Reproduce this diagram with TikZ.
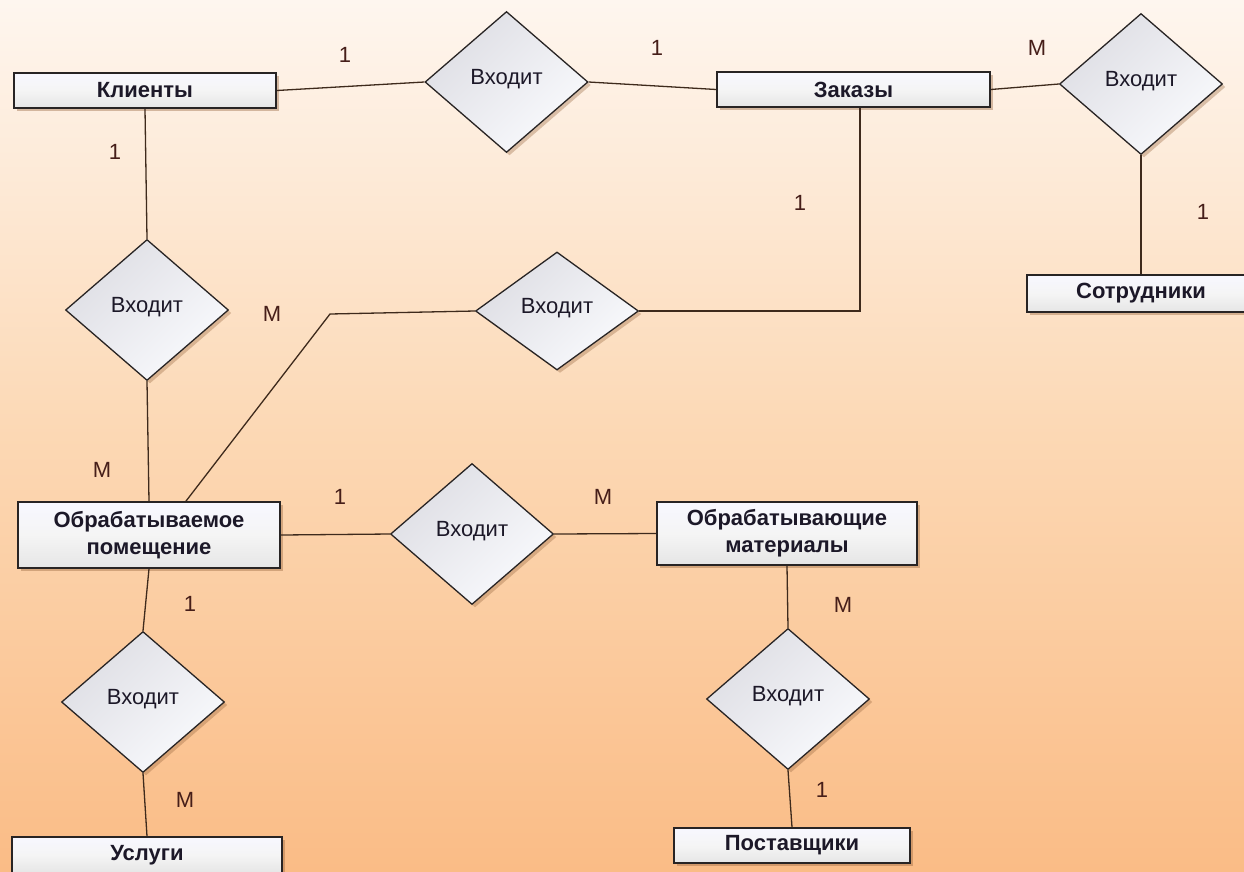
\documentclass[tikz,border=0pt]{standalone}
\usepackage{fontspec}
\setmainfont{Liberation Sans}
\usetikzlibrary{shapes.geometric,shadows,calc}
\definecolor{bgtop}{RGB}{254,246,239}
\definecolor{bgmid}{RGB}{252,216,180}
\definecolor{bgbot}{RGB}{250,188,134}
\definecolor{edgec}{RGB}{40,36,36}
\definecolor{connc}{RGB}{62,42,28}
\definecolor{lblc}{RGB}{70,30,25}
\definecolor{txtc}{RGB}{28,24,40}
\definecolor{shadc}{RGB}{150,100,60}
\definecolor{dtop}{RGB}{222,222,228}
\definecolor{dbot}{RGB}{249,250,253}
\begin{document}
\begin{tikzpicture}[x=1pt,y=-1pt,
  entity/.style={draw=edgec, line width=1.6pt, rectangle, inner sep=0pt,
    top color=white!97!blue, bottom color=gray!20, middle color=gray!8,
    font=\fontsize{22}{27}\selectfont\bfseries, text=txtc, align=center,
    drop shadow={opacity=0.4, shadow xshift=3pt, shadow yshift=-3pt, fill=shadc}},
  rel/.style={draw=edgec, line width=1.3pt, diamond, aspect=1.156, inner sep=0pt,
    minimum width=163pt, minimum height=141pt,
    top color=dtop, bottom color=dbot, shading angle=45,
    font=\fontsize{22}{26}\selectfont, text=txtc, text height=16pt, text depth=12pt,
    drop shadow={opacity=0.35, shadow xshift=3pt, shadow yshift=-3pt, fill=shadc}},
  card/.style={font=\fontsize{22}{26}\selectfont, text=lblc, inner sep=0pt},
  conn/.style={draw=connc, line width=1.3pt}]
\useasboundingbox (0,0) rectangle (1244,871);
\clip (0,0) rectangle (1244,871);
\shade[top color=bgtop, bottom color=bgbot, middle color=bgmid] (0,0) rectangle (1244,871);

% entities
\node[entity, minimum width=262pt, minimum height=35pt] (kl) at (145,90.5) {Клиенты};
\node[entity, minimum width=273pt, minimum height=35pt] (zak) at (853.5,89.5) {Заказы};
\node[entity, minimum width=228pt, minimum height=37pt] (sotr) at (1141,293.5) {Сотрудники};
\node[entity, minimum width=262pt, minimum height=66pt] (pom) at (149,535) {Обрабатываемое\\помещение};
\node[entity, minimum width=260pt, minimum height=63pt] (mat) at (787,533.5) {Обрабатывающие\\материалы};
\node[entity, minimum width=270pt, minimum height=36pt] (usl) at (147,855) {Услуги};
\node[entity, minimum width=236pt, minimum height=35pt] (post) at (792,845.5) {Поставщики};

% relationships
\node[rel] (d1) at (506.5,82) {Входит};
\node[rel] (d2) at (1141,84) {Входит};
\node[rel] (d3) at (147,310) {Входит};
\node[rel, minimum height=118pt, aspect=1.4] (d4) at (557,311) {Входит};
\node[rel] (d5) at (472,534) {Входит};
\node[rel] (d6) at (143,702) {Входит};
\node[rel] (d7) at (788,699) {Входит};

% connectors
\coordinate (zb) at (860,311);
\coordinate (mb) at (330,314);
\draw[conn] (kl.east) -- (d1.west);
\draw[conn] (d1.east) -- (zak.west);
\draw[conn] (zak.east) -- (d2.west);
\draw[conn] (d2.south) -- (sotr.north);
\draw[conn] (kl.south) -- (d3.north);
\draw[conn] (d3.south) -- (pom.north);
\draw[conn] (zak.south -| zb) -- (zb) -- (d4.east);
\draw[conn] (d4.west) -- (mb) -- ($(pom.north west)!0.64!(pom.north east)$);
\draw[conn] (pom.east) -- (d5.west);
\draw[conn] (d5.east) -- (mat.west);
\draw[conn] (mat.south) -- (d7.north);
\draw[conn] (d7.south) -- (post.north);
\draw[conn] (pom.south) -- (d6.north);
\draw[conn] (d6.south) -- (usl.north);

% cardinalities
\node[card] (c1) at (345,55) {1};
\node[card] (c2) at (657,48) {1};
\node[card] (c3) at (1037,48) {M};
\node[card] (c4) at (115,152) {1};
\node[card] (c5) at (800,203) {1};
\node[card] (c6) at (1203,212) {1};
\node[card] (c7) at (272,314) {M};
\node[card] (c8) at (102,470) {M};
\node[card] (c9) at (340,497) {1};
\node[card] (c10) at (603,497) {M};
\node[card] (c11) at (190,604) {1};
\node[card] (c12) at (843,605) {M};
\node[card] (c13) at (185,800) {M};
\node[card] (c14) at (822,790) {1};
\end{tikzpicture}
\end{document}
